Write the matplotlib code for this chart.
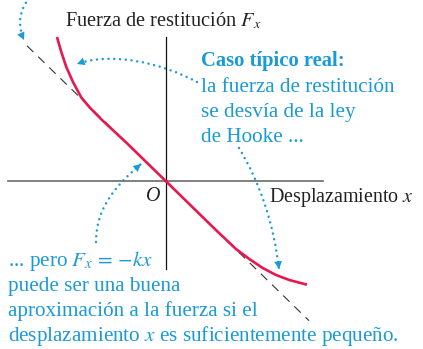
import matplotlib
matplotlib.use('Agg')
import matplotlib.pyplot as plt
from matplotlib.path import Path
from matplotlib.patches import PathPatch

plt.rcParams['font.family'] = ['Liberation Serif', 'DejaVu Serif']
plt.rcParams['mathtext.fontset'] = 'stix'

# real restoring force (1 unit = 100 px)
x_real = [-1.087, -1.044, -0.994, -0.927, -0.844, -0.76, -0.644, -0.39, 0.0,
          0.5, 0.703, 0.836, 0.97, 1.103, 1.236, 1.413]
F_real = [1.44, 1.29, 1.14, 0.99, 0.835, 0.735, 0.617, 0.38, 0.0,
          -0.488, -0.68, -0.78, -0.87, -0.94, -0.99, -1.037]

# Hooke's law line F = -kx
x_hooke = [-1.387, 1.433]
F_hooke = [1.352, -1.397]

# axes extents
x_axis = [-1.577, 1.573]
F_axis = [1.44, -0.88]

blue = '#1a9ad6'
red = '#e8174f'
fs_black = 14.4
fs_blue = 15.2


def px(x, y):
    # pixel position in the picture -> data coordinates
    return ((x - 165.7) / 100, (181 - y) / 100)


def dotted_arrow(ax, pts, codes):
    verts = [px(*p) for p in pts]
    path = Path(verts, codes)
    ax.add_patch(PathPatch(path, fill=False, edgecolor=blue, lw=1.8,
                           linestyle=(0, (0.01, 2.3)), capstyle='round'))
    ax.annotate('', xy=verts[-1], xytext=verts[-2],
                arrowprops=dict(arrowstyle='-|>,head_length=0.55,head_width=0.28',
                                color=blue, lw=0, shrinkA=0, shrinkB=0,
                                mutation_scale=10))


fig = plt.figure(figsize=(4.23, 3.49), dpi=100)
ax = fig.add_axes([0, 0, 1, 1])
ax.set_xlim(-1.657, 2.573)
ax.set_ylim(-1.68, 1.81)
ax.axis('off')

ax.plot(x_axis, [0, 0], color='#6a6a6a', lw=1.2)
ax.plot([0, 0], F_axis, color='#111111', lw=0.9)
ax.plot(x_hooke, F_hooke, color='#333333', lw=0.8, dashes=(8, 6))
ax.plot(x_real, F_real, color=red, lw=1.9, solid_capstyle='butt')

Q = [Path.MOVETO, Path.CURVE3, Path.CURVE3]
C = [Path.MOVETO, Path.CURVE4, Path.CURVE4, Path.CURVE4]
dotted_arrow(ax, [(29, -2), (14, 18), (24, 40)], Q)
dotted_arrow(ax, [(197, 82), (160, 62), (110, 52), (77, 64)], C)
dotted_arrow(ax, [(239, 148), (271, 201), (279, 269)], Q)
dotted_arrow(ax, [(96, 242), (96, 205), (120, 182), (141, 164)], C)

ax.text(*px(65, 26), 'Fuerza de restitución $F_x$', fontsize=fs_black + 0.3,
        color='#222222', va='baseline')
ax.text(*px(269, 202), 'Desplazamiento $x$', fontsize=fs_black,
        color='#222222', va='baseline')
ax.text(*px(146, 201), 'O', fontsize=fs_black, style='italic',
        color='#222222', va='baseline')

ax.text(*px(201, 66), 'Caso típico real:', fontsize=fs_blue - 0.3, weight='bold',
        color=blue, va='baseline')
for i, line in enumerate(['la fuerza de restitución', 'se desvía de la ley',
                          'de Hooke ...']):
    ax.text(*px(201, 92 + 25 * i), line, fontsize=fs_blue, color=blue,
            va='baseline')

for i, line in enumerate(['... pero $F_x\\,=\\,{-}kx$', 'puede ser una buena',
                          'aproximación a la fuerza si el',
                          'desplazamiento $x$ es suficientemente pequeño.']):
    ax.text(*px(8, 266 + 25 * i), line, fontsize=fs_blue, color=blue,
            va='baseline')

fig.savefig('out.png', dpi=100)
